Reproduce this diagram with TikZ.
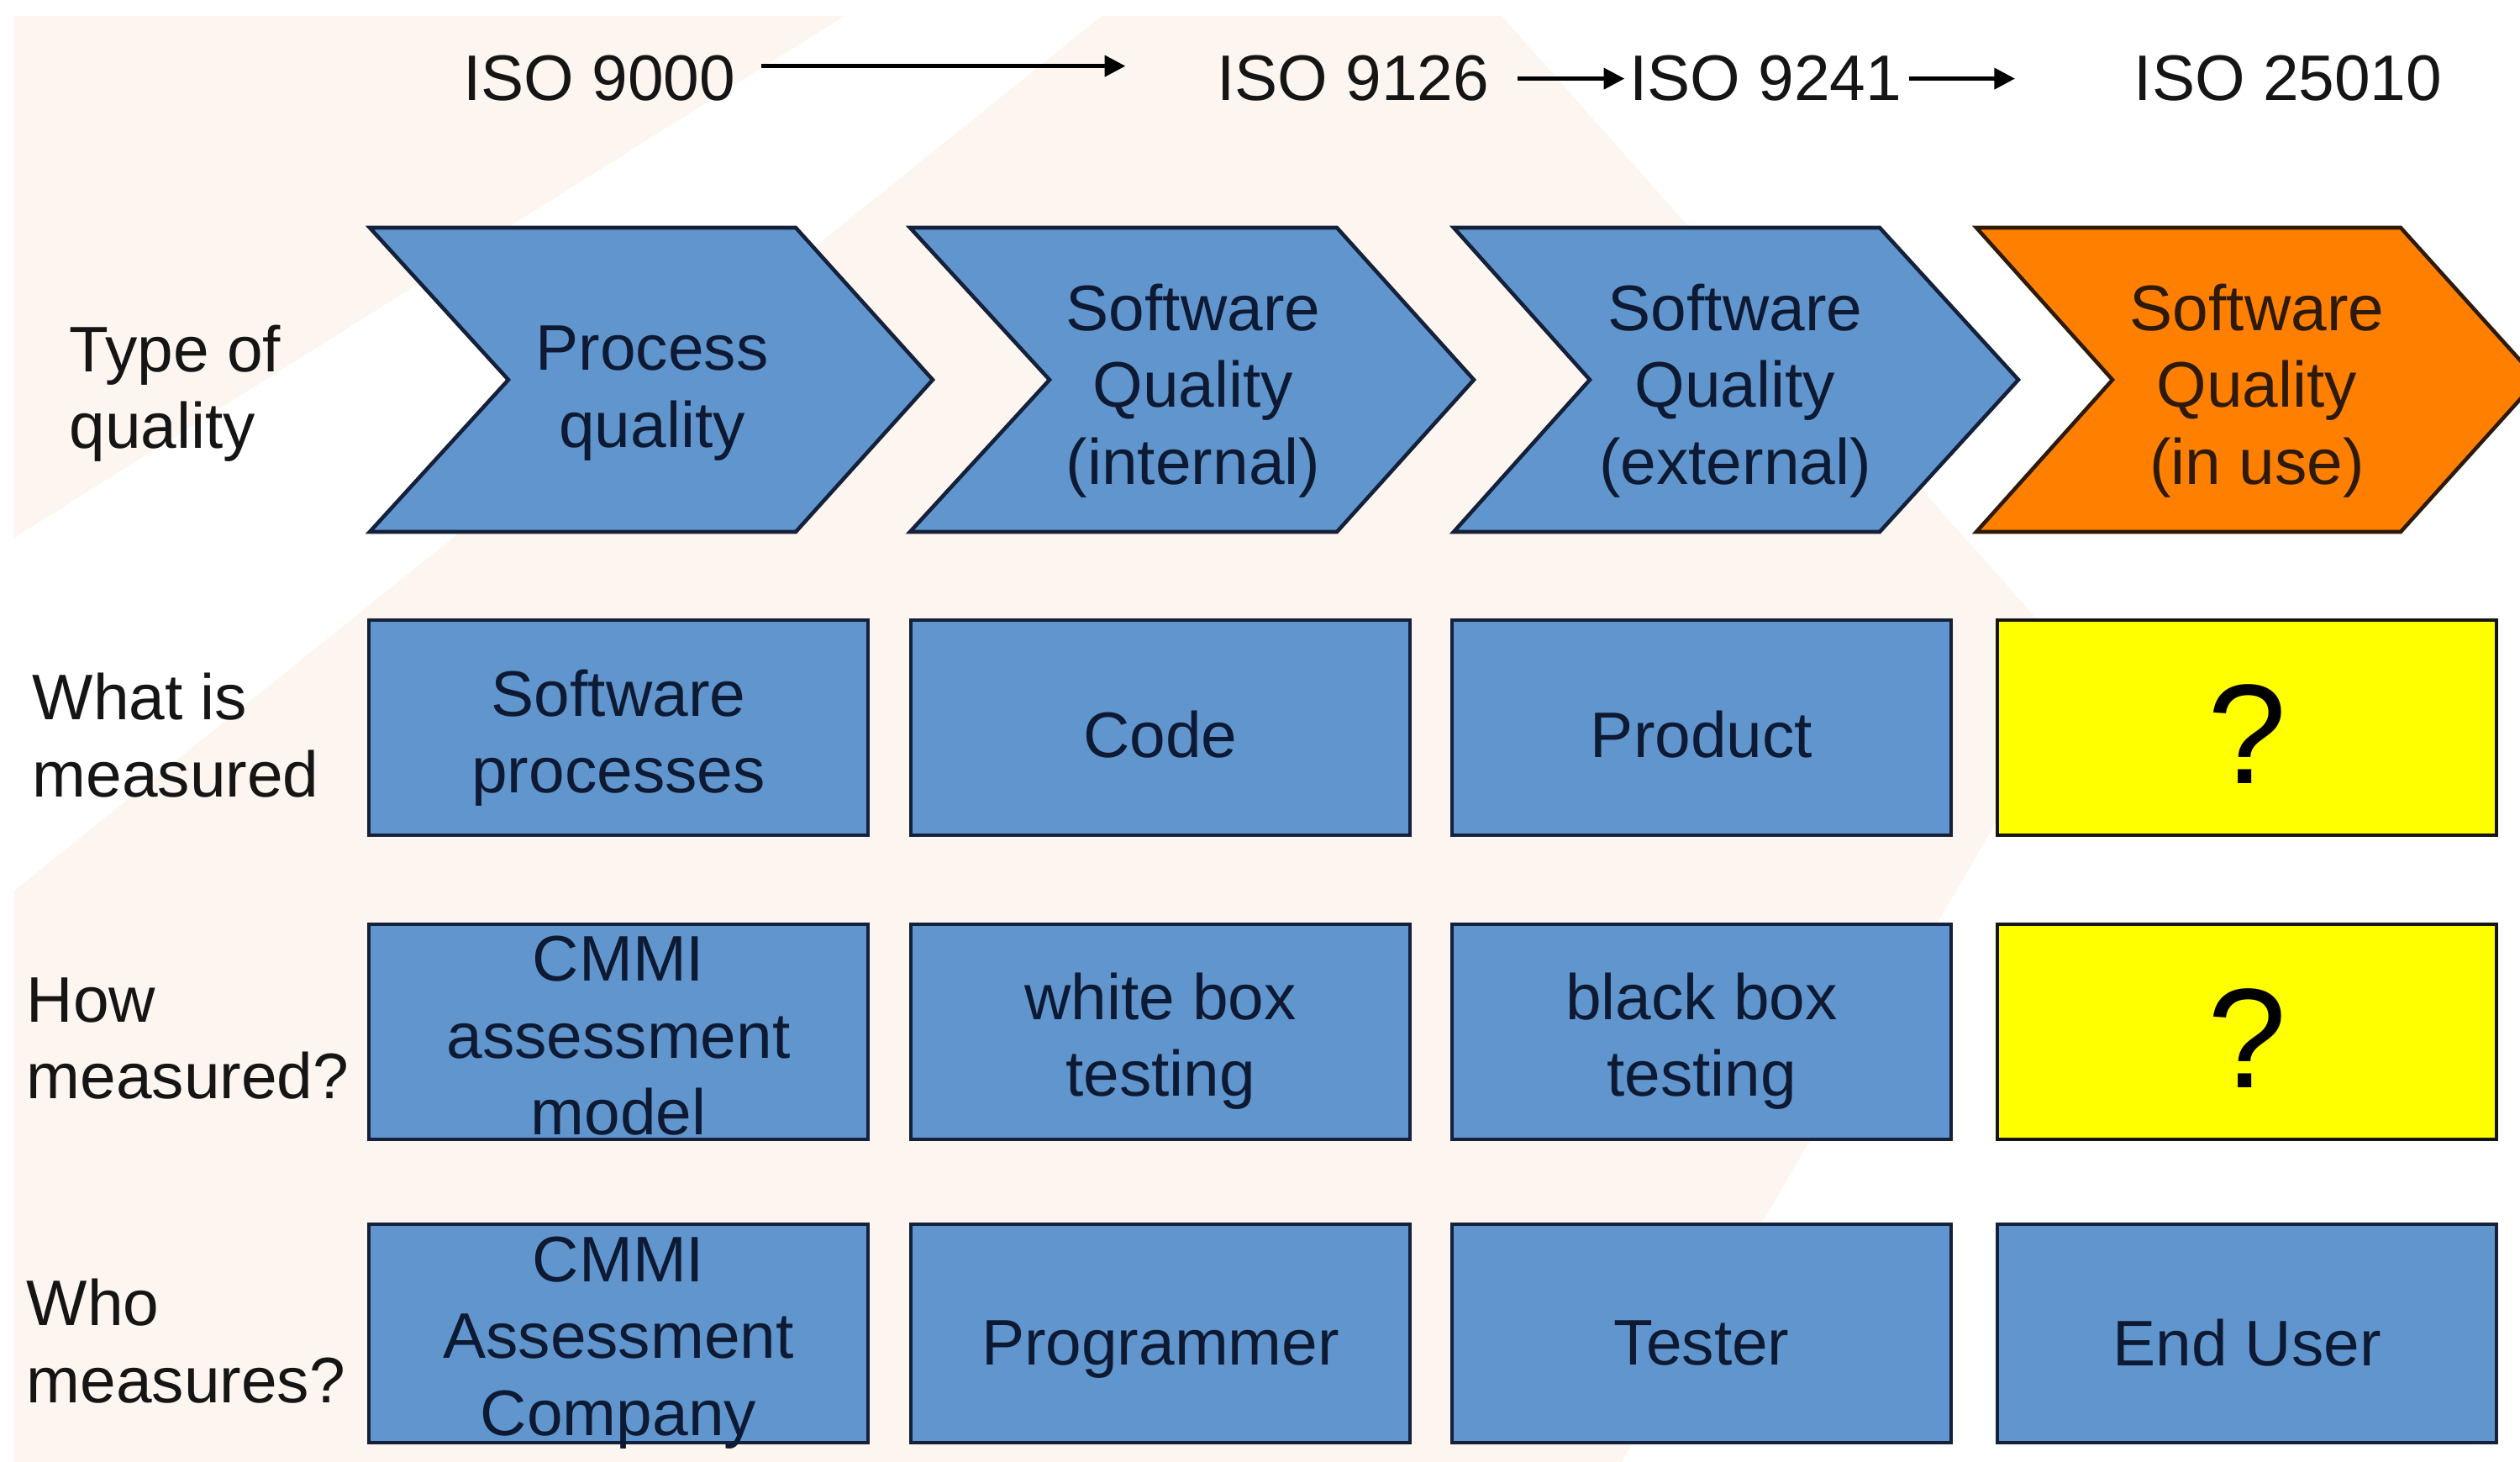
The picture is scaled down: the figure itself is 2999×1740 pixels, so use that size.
\documentclass[tikz,border=0pt]{standalone}
\usepackage{fontspec}
\setmainfont{Liberation Sans}
\usetikzlibrary{arrows.meta}
\definecolor{peach}{HTML}{FDF5EF}
\definecolor{qblue}{HTML}{6096CD}
\definecolor{qorange}{HTML}{FF8000}
\definecolor{qyellow}{HTML}{FFFF00}
\definecolor{qnavy}{HTML}{0E1A33}
\definecolor{qedge}{HTML}{15203A}
\definecolor{qbrown}{HTML}{2E1A08}
\definecolor{qtext}{HTML}{151515}
\begin{document}
\begin{tikzpicture}[x=0.01cm,y=-0.01cm,
  every node/.style={inner sep=0pt},
  big/.style={font=\fontsize{21.8}{26}\selectfont},
  txt/.style={big, align=center, text=qnavy},
  lab/.style={big, align=left, anchor=west, text=qtext},
  iso/.style={big, anchor=base, text=qtext},
  chev/.style={draw=qedge, fill=qblue, line width=1.3pt, line join=miter},
  chevo/.style={draw=qbrown, fill=qorange, line width=1.3pt, line join=miter},
  box/.style={rectangle, draw=qedge, fill=qblue, line width=1.3pt,
              minimum width=5.94cm, minimum height=2.56cm},
  qbox/.style={box, draw=qtext, fill=qyellow},
  qmark/.style={text=black, font=\fontsize{48}{50}\selectfont},
  arr/.style={line width=1.4pt, draw=black, -{Triangle[length=7pt,width=7pt]}}]

\path[use as bounding box] (0,0) rectangle (2999,1740);
\clip (0,0) rectangle (2999,1740);

% background
\fill[white] (0,0) rectangle (2999,1740);
\fill[peach] (17,19) -- (1787,19) -- (2480,800) -- (1930,1740) -- (17,1740) -- cycle;
\fill[white] (1005,19) -- (1311,19) -- (17,1060) -- (17,640) -- cycle;

% top standards
\node[iso] (i1) at (713,120) {ISO 9000};
\node[iso] (i2) at (1610,120) {ISO 9126};
\node[iso] (i3) at (2101,120) {ISO 9241};
\node[iso] (i4) at (2723,120) {ISO 25010};
\draw[arr] ([shift={(30,-15)}]i1.east) -- ([shift={(-108,-15)}]i2.west);
\draw[arr] ([shift={(33,0)}]i2.east) -- ([shift={(-5,0)}]i3.west);
\draw[arr] ([shift={(8,0)}]i3.east) -- ([shift={(-141,0)}]i4.west);

% chevrons
\path[chev] (440,271) -- (947,271) -- (1110,452) -- (947,633) -- (440,633) -- (605,452) -- cycle;
\path[chev] (1083,271) -- (1591,271) -- (1754,452) -- (1591,633) -- (1083,633) -- (1249,452) -- cycle;
\path[chev] (1730,271) -- (2237,271) -- (2402,452) -- (2237,633) -- (1730,633) -- (1892,452) -- cycle;
\path[chevo] (2352,271) -- (2857,271) -- (3020,452) -- (2857,633) -- (2352,633) -- (2514,452) -- cycle;
\node[txt] (c1) at (776,468) {Process\\quality};
\node[txt] (c2) at (1420,465) {Software\\Quality\\(internal)};
\node[txt] (c3) at (2065,465) {Software\\Quality\\(external)};
\node[txt, text=qbrown] (c4) at (2686,465) {Software\\Quality\\(in use)};

% row labels
\node[lab] (l1) at (82,468) {Type of\\quality};
\node[lab] (l2) at (38,875) {What is\\measured};
\node[lab] (l3) at (31,1236) {How\\measured?};
\node[lab] (l4) at (31,1596) {Who\\measures?};

% row 1
\node[box] (b11) at (736,866) {};
\node[box] (b12) at (1381,866) {};
\node[box] (b13) at (2025,866) {};
\node[qbox] (b14) at (2674,866) {};
\node[txt] (t11) at ([shift={(0,12)}]b11.center) {Software\\processes};
\node[txt] (t12) at ([shift={(0,8)}]b12.center) {Code};
\node[txt] (t13) at ([shift={(0,8)}]b13.center) {Product};
\node[qmark] (t14) at ([shift={(0,8)}]b14.center) {?};
% row 2
\node[box] (b21) at (736,1228) {};
\node[box] (b22) at (1381,1228) {};
\node[box] (b23) at (2025,1228) {};
\node[qbox] (b24) at (2674,1228) {};
\node[txt] (t21) at ([shift={(0,5)}]b21.center) {CMMI\\assessment\\model};
\node[txt] (t22) at ([shift={(0,11)}]b22.center) {white box\\testing};
\node[txt] (t23) at ([shift={(0,11)}]b23.center) {black box\\testing};
\node[qmark] (t24) at ([shift={(0,8)}]b24.center) {?};
% row 3
\node[box, minimum height=2.6cm] (b31) at (736,1587) {};
\node[box, minimum height=2.6cm] (b32) at (1381,1587) {};
\node[box, minimum height=2.6cm] (b33) at (2025,1587) {};
\node[box, minimum height=2.6cm] (b34) at (2674,1587) {};
\node[txt] (t31) at ([shift={(0,11)}]b31.center) {CMMI\\Assessment\\Company};
\node[txt] (t32) at ([shift={(0,19)}]b32.center) {Programmer};
\node[txt] (t33) at ([shift={(0,11)}]b33.center) {Tester};
\node[txt] (t34) at ([shift={(0,11)}]b34.center) {End User};
\end{tikzpicture}
\end{document}
